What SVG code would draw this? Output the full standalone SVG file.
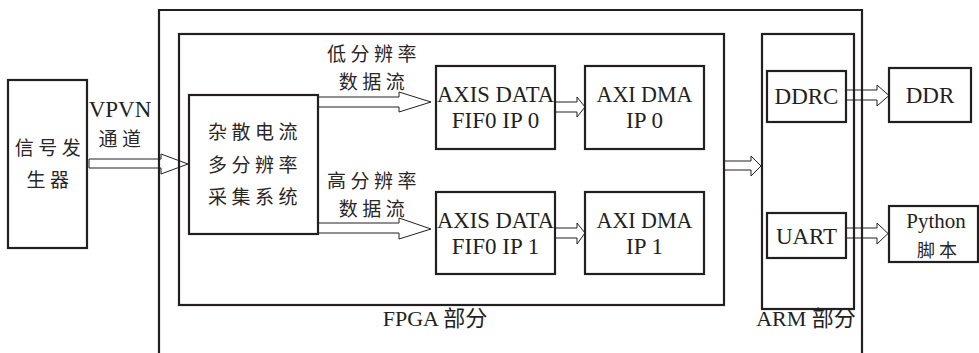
<svg xmlns="http://www.w3.org/2000/svg" width="979" height="353" viewBox="0 0 979 353">
<style>
.box{fill:none;stroke:#231f20;stroke-width:2.2}
.frame{fill:none;stroke:#231f20;stroke-width:2.2}
.arr{fill:none;stroke:#231f20;stroke-width:1;stroke-linejoin:miter}
.lat{font-family:'Liberation Serif','Noto Sans CJK SC',serif;font-size:23px;fill:#231f20;text-anchor:middle}
.cjk{font-family:'Noto Sans CJK SC','Liberation Serif',sans-serif;font-size:19px;fill:#2a2627;text-anchor:middle;letter-spacing:4.5px}
.mix{font-family:'Liberation Serif','Noto Sans CJK SC',serif;font-size:22px;fill:#231f20;text-anchor:middle}
</style>
<rect width="979" height="353" fill="#fff"/>
<g id="frames">
<path class="frame" d="M159,353 V10 H862 V353"/>
<rect id="fpga" class="box" x="179" y="34" width="545" height="271"/>
<rect id="arm" class="box" x="762" y="34" width="92" height="275"/>
<text class="mix" x="435" y="326">FPGA 部分</text>
<text class="mix" x="806" y="326">ARM 部分</text>
</g>
<g id="siggen">
<rect class="box" x="8" y="80" width="79" height="168"/>
<text class="cjk" x="50" y="155">信号发</text>
<text class="cjk" x="50" y="187">生器</text>
</g>
<g id="system">
<rect class="box" x="189" y="95" width="129" height="139"/>
<text class="cjk" x="255" y="139">杂散电流</text>
<text class="cjk" x="255" y="172">多分辨率</text>
<text class="cjk" x="255" y="204">采集系统</text>
</g>
<g id="fifo0">
<rect class="box" x="436" y="66" width="119" height="83"/>
<text class="lat" x="495.5" y="102" textLength="117" lengthAdjust="spacingAndGlyphs">AXIS DATA</text>
<text class="lat" x="495.5" y="128">FIF0 IP 0</text>
</g>
<g id="dma0">
<rect class="box" x="585" y="66" width="119" height="83"/>
<text class="lat" x="644.5" y="102" textLength="96" lengthAdjust="spacingAndGlyphs">AXI DMA</text>
<text class="lat" x="644.5" y="128">IP 0</text>
</g>
<g id="fifo1">
<rect class="box" x="436" y="192" width="119" height="82"/>
<text class="lat" x="495.5" y="228" textLength="117" lengthAdjust="spacingAndGlyphs">AXIS DATA</text>
<text class="lat" x="495.5" y="254">FIF0 IP 1</text>
</g>
<g id="dma1">
<rect class="box" x="585" y="192" width="119" height="82"/>
<text class="lat" x="644.5" y="228" textLength="96" lengthAdjust="spacingAndGlyphs">AXI DMA</text>
<text class="lat" x="644.5" y="254">IP 1</text>
</g>
<g id="ddrc">
<rect class="box" x="767" y="71" width="79" height="51"/>
<text class="lat" x="806.5" y="104">DDRC</text>
</g>
<g id="uart">
<rect class="box" x="767" y="213" width="79" height="45"/>
<text class="lat" x="806.5" y="244">UART</text>
</g>
<g id="ddr">
<rect class="box" x="889" y="68" width="82" height="54"/>
<text class="lat" x="930" y="103">DDR</text>
</g>
<g id="python">
<rect class="box" x="889" y="206" width="89" height="56"/>
<text class="mix" x="936" y="228" style="font-size:21px">Python</text>
<text class="cjk" x="939" y="257" style="font-size:18px;letter-spacing:4px">脚本</text>
</g>
<g id="connectors">
<polygon class="arr" points="89,159 161,159 161,154 188,164 161,174 161,168 89,168"/>
<text class="lat" x="120" y="117">VPVN</text>
<text class="cjk" x="122" y="146">通道</text>
<polygon class="arr" points="318,97 399,97 399,92 431,102 399,112 399,107 318,107"/>
<text class="cjk" x="374" y="61">低分辨率</text>
<text class="cjk" x="374" y="89">数据流</text>
<polygon class="arr" points="318,223 399,223 399,218 431,229 399,239 399,233 318,233"/>
<text class="cjk" x="374" y="188">高分辨率</text>
<text class="cjk" x="374" y="216">数据流</text>
<polygon class="arr" points="555,102 577,102 577,97 585,107 577,117 577,112 555,112"/>
<polygon class="arr" points="555,228 577,228 577,223 585,233 577,244 577,238 555,238"/>
<polygon class="arr" points="724,161 751,161 751,156 761,166 751,176 751,170 724,170"/>
<polygon class="arr" points="846,90 877,90 877,85 889,95.5 877,106 877,100 846,100"/>
<polygon class="arr" points="846,228 877,228 877,223 888,233.5 877,244 877,238 846,238"/>
</g>
</svg>
